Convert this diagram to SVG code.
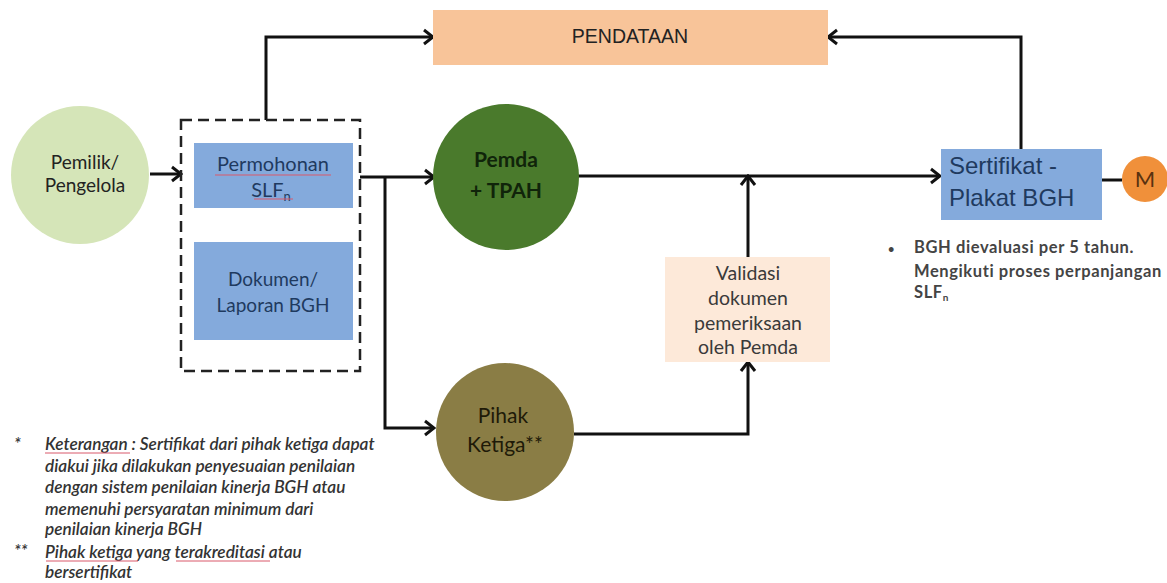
<svg xmlns="http://www.w3.org/2000/svg" width="1167" height="583" viewBox="0 0 1167 583">
<style>
text{font-family:Lato,"Liberation Sans",sans-serif;font-size:16px;fill:#222;text-anchor:middle}
.blue{fill:#84aadc}
.dk{fill:#1f3a5f}
.c{fill:none;stroke:#111;stroke-width:3}
.t19{font-size:19px}
.d{font-size:20px;fill:#1f3a5f}
.v{font-size:19.5px;fill:#3a3a3a}
.p{font-size:21px;fill:#10240a;font-weight:700}
.k{font-size:21px;fill:#1e1a08}
.s{font-family:"Liberation Sans",sans-serif;font-size:24px;text-anchor:start;fill:#1f3a5f}
.note{font-size:17.2px;font-style:italic;text-anchor:start;fill:#333;font-weight:600}
.nr{font-size:16.5px;letter-spacing:.6px;text-anchor:start;fill:#444;font-weight:700}
.sq{fill:none;stroke:#d9596b;stroke-width:1}
</style>
<defs>
<marker id="a" markerUnits="userSpaceOnUse" markerWidth="16" markerHeight="20" refX="14" refY="10" orient="auto"><path d="M5 3L14 10L5 17" fill="none" stroke="#111" stroke-width="3"/></marker>
</defs>
<rect width="1167" height="583" fill="#fff"/>
<g id="connectors">
<path class="c" d="M266 120V37H433" marker-end="url(#a)"/>
<path class="c" d="M1021 150V37H828" marker-end="url(#a)"/>
<path class="c" d="M150 174H181" marker-end="url(#a)"/>
<path class="c" d="M360 177H434" marker-end="url(#a)"/>
<path class="c" d="M385 177V428H434" marker-end="url(#a)"/>
<path class="c" d="M578 176H940" marker-end="url(#a)"/>
<path class="c" d="M748 257V176" marker-end="url(#a)"/>
<path class="c" d="M574 434H748V362" marker-end="url(#a)"/>
<path class="c" d="M1102 180H1122"/>
</g>
<g id="pendataan"><rect x="433" y="10" width="395" height="55" fill="#f8c499"/><text x="630" y="43" style="font-family:'Liberation Sans',sans-serif;font-size:19.5px">PENDATAAN</text></g>
<g id="pemilik"><circle cx="80" cy="175" r="69" fill="#d5e5b8"/><text class="t19" x="85" y="169">Pemilik/</text><text class="t19" x="85" y="192">Pengelola</text></g>
<g id="kotak"><rect x="181" y="120" width="179" height="251" fill="none" stroke="#222" stroke-width="2.5" stroke-dasharray="11 6"/></g>
<g id="permohonan"><rect class="blue" x="194" y="143" width="159" height="65"/><text class="d" x="273" y="171">Permohonan</text><text class="d" x="271" y="197">SLF<tspan dy="4" font-size="13">n</tspan></text><path class="sq" d="M215 175H331M254 199H293"/></g>
<g id="dokumen"><rect class="blue" x="194" y="242" width="159" height="98"/><text class="d" x="273" y="286" style="font-size:19px">Dokumen/</text><text class="d" x="273" y="312" style="font-size:19px">Laporan BGH</text></g>
<g id="pemda"><circle cx="506" cy="177" r="73" fill="#4a7a2c"/><text class="p" x="506" y="167">Pemda</text><text class="p" x="506" y="198">+ TPAH</text></g>
<g id="pihak"><circle cx="505" cy="432" r="69" fill="#8a7d45"/><text class="k" x="503" y="423">Pihak</text><text class="k" x="505" y="452">Ketiga**</text></g>
<g id="validasi"><rect x="665" y="257" width="165" height="105" fill="#fde9d9"/><text class="v" x="748" y="280">Validasi</text><text class="v" x="748" y="305">dokumen</text><text class="v" x="748" y="330">pemeriksaan</text><text class="v" x="748" y="354">oleh Pemda</text></g>
<g id="sertifikat"><rect class="blue" x="941" y="149" width="161" height="71"/><text class="s" x="949" y="174">Sertifikat -</text><text class="s" x="949" y="206">Plakat BGH</text></g>
<g id="m"><circle cx="1145" cy="179" r="23" fill="#f0903a"/><text x="1145" y="187" style="font-size:22px;fill:#5a3210">M</text></g>
<g id="catatan-bgh">
<text class="nr" x="888" y="253" style="font-size:11px">•</text>
<text class="nr" x="914" y="253">BGH dievaluasi per 5 tahun.</text>
<text class="nr" x="914" y="277">Mengikuti proses perpanjangan</text>
<text class="nr" x="914" y="298">SLF<tspan dy="3" font-size="10">n</tspan></text>
</g>
<g id="keterangan">
<text class="note" x="14" y="450">*</text>
<text class="note" x="45" y="450">Keterangan : Sertifikat dari pihak ketiga dapat</text>
<text class="note" x="45" y="472">diakui jika dilakukan penyesuaian penilaian</text>
<text class="note" x="45" y="493">dengan sistem penilaian kinerja BGH atau</text>
<text class="note" x="45" y="515">memenuhi persyaratan minimum dari</text>
<text class="note" x="45" y="535">penilaian kinerja BGH</text>
<text class="note" x="14" y="557">**</text>
<text class="note" x="45" y="558">Pihak ketiga yang terakreditasi atau</text>
<text class="note" x="45" y="578">bersertifikat</text>
<path class="sq" d="M45 453H130M46 561H138M176 561H270"/>
</g>
</svg>
